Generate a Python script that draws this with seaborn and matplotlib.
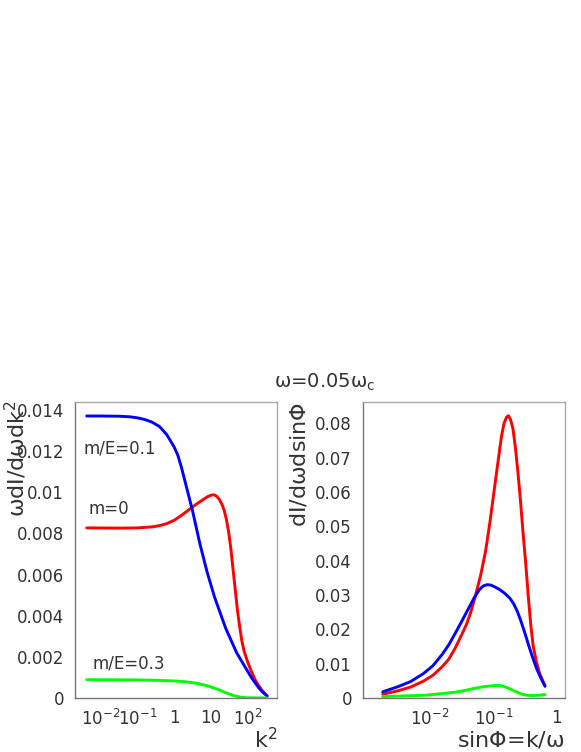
import numpy as np
import pandas as pd
import seaborn as sns
import matplotlib
matplotlib.use("Agg")
import matplotlib.pyplot as plt
from matplotlib.ticker import FixedLocator, FixedFormatter, AutoMinorLocator, LogLocator, NullFormatter, FuncFormatter

# Values. x positions are kept as log10 of the axis value
# (easier to read on a log axis), converted below.

# Left panel: omega dI/domega dk^2 against k^2
logk2_m0 = [-2.38, -1.5, -1.0, -0.6, -0.4, -0.2, 0.0, 0.2, 0.4, 0.6, 0.8, 0.9, 1.0, 1.08, 1.15,
            1.22, 1.3, 1.36, 1.42, 1.48, 1.54, 1.6, 1.66, 1.72, 1.78, 1.84, 1.9, 2.0, 2.1, 2.2,
            2.3, 2.4, 2.53]
dI_m0 = [0.00827, 0.00826, 0.00827, 0.00832, 0.00838, 0.00848, 0.00864, 0.00888, 0.00915,
         0.00942, 0.00966, 0.00978, 0.00986, 0.00988, 0.00982, 0.00968, 0.00942, 0.00913,
         0.0087, 0.0081, 0.0073, 0.0063, 0.0053, 0.0043, 0.0035, 0.0028, 0.0023, 0.00175,
         0.0013, 0.0009, 0.0006, 0.00035, 0.0001]

logk2_m01 = [-2.38, -2.0, -1.5, -1.2, -1.0, -0.8, -0.6, -0.4, -0.2, 0.0, 0.1, 0.2, 0.3, 0.4, 0.5,
             0.6, 0.7, 0.8, 0.9, 1.0, 1.1, 1.2, 1.3, 1.4, 1.5, 1.6, 1.7, 1.8, 1.9, 2.0, 2.1, 2.2,
             2.3, 2.4, 2.53]
dI_m01 = [0.01371, 0.01371, 0.0137, 0.01367, 0.01362, 0.01354, 0.01341, 0.0132, 0.0128, 0.0122,
          0.0118, 0.0112, 0.0105, 0.0098, 0.0091, 0.0083, 0.0075, 0.0068, 0.0061, 0.0055,
          0.0049, 0.0044, 0.0039, 0.0034, 0.003, 0.0026, 0.0022, 0.0019, 0.0016, 0.0013,
          0.001, 0.00075, 0.0005, 0.0003, 0.0001]

logk2_m03 = [-2.38, -1.0, -0.5, 0.0, 0.3, 0.6, 0.8, 1.0, 1.2, 1.4, 1.6, 1.8, 2.0, 2.53]
dI_m03 = [0.00089, 0.00088, 0.00086, 0.00083, 0.00079, 0.00072, 0.00064, 0.00054, 0.00041,
          0.00026, 0.00013, 0.00004, 0.00001, 0.0]

# Right panel: dI/domega dsinPhi against sinPhi = k/omega
logs_m0 = [-2.74, -2.5, -2.3, -2.1, -1.95, -1.8, -1.7, -1.6, -1.5, -1.42, -1.35, -1.28, -1.2,
           -1.12, -1.05, -0.98, -0.92, -0.87, -0.83, -0.79, -0.76, -0.73, -0.69, -0.65, -0.61,
           -0.57, -0.53, -0.49, -0.45, -0.41, -0.37, -0.32, -0.27, -0.22, -0.185]
dS_m0 = [0.0011, 0.0021, 0.0032, 0.0049, 0.0066, 0.0092, 0.0113, 0.0145, 0.0183, 0.0215, 0.0252,
         0.0298, 0.0356, 0.0428, 0.0515, 0.0612, 0.0695, 0.0762, 0.08, 0.0818, 0.0822, 0.0812,
         0.0785, 0.0728, 0.0655, 0.0572, 0.048, 0.0395, 0.03, 0.0215, 0.015, 0.0105, 0.0072,
         0.005, 0.0037]

logs_m01 = [-2.74, -2.5, -2.3, -2.1, -1.95, -1.8, -1.7, -1.6, -1.5, -1.4, -1.3, -1.22, -1.16,
            -1.1, -1.04, -0.98, -0.9, -0.82, -0.74, -0.68, -0.62, -0.56, -0.5, -0.44, -0.38,
            -0.32, -0.26, -0.22, -0.185]
dS_m01 = [0.0018, 0.0033, 0.0048, 0.0071, 0.0094, 0.0128, 0.0155, 0.0188, 0.0222, 0.0257, 0.0292,
          0.0315, 0.0326, 0.033, 0.0329, 0.0324, 0.0316, 0.0305, 0.0291, 0.0275, 0.0252, 0.0222,
          0.0188, 0.0152, 0.0118, 0.0087, 0.0062, 0.0047, 0.0034]

logs_m03 = [-2.74, -2.4, -2.08, -1.8, -1.6, -1.475, -1.32, -1.15, -1.0, -0.92, -0.84, -0.74,
            -0.64, -0.55, -0.47, -0.38, -0.28, -0.185]
dS_m03 = [0.0004, 0.0006, 0.0008, 0.0013, 0.0017, 0.0021, 0.0027, 0.0033, 0.0036, 0.0037, 0.0034,
          0.0027, 0.0018, 0.0011, 0.0008, 0.0007, 0.0008, 0.001]

left_ticks = [1e-2, 1e-1, 1, 10, 100]
left_labels = ['$10^{-2}$', '$10^{-1}$', '1', '10', '$10^{2}$']
right_ticks = [1e-2, 1e-1, 1]
right_labels = ['$10^{-2}$', '$10^{-1}$', '1']

sns.set_style("white")
plt.rcParams['font.family'] = ['DejaVu Sans']
plt.rcParams['mathtext.fontset'] = 'dejavusans'
plt.rcParams['mathtext.default'] = 'regular'

txt = '#333333'
RED, BLUE, GREEN = '#ff0000', '#0000ff', '#00ff00'

fig = plt.figure(figsize=(5.81, 7.52), dpi=100)
ax1 = fig.add_axes([0.1291, 0.0718, 0.3477, 0.3936])
ax2 = fig.add_axes([0.6248, 0.0718, 0.3477, 0.3936])

for lx, y, c in [(logk2_m0, dI_m0, RED), (logk2_m01, dI_m01, BLUE), (logk2_m03, dI_m03, GREEN)]:
    sns.lineplot(x=np.power(10.0, lx), y=y, ax=ax1, color=c, linewidth=2.1,
                 estimator=None, sort=False)
for lx, y, c in [(logs_m0, dS_m0, RED), (logs_m01, dS_m01, BLUE), (logs_m03, dS_m03, GREEN)]:
    sns.lineplot(x=np.power(10.0, lx), y=y, ax=ax2, color=c, linewidth=2.1,
                 estimator=None, sort=False)


def style_axis(ax, xlim, ylim, ystep, xt, xl):
    ax.set_xscale('log')
    ax.set_xlim(*xlim)
    ax.set_ylim(*ylim)
    ax.xaxis.set_major_locator(FixedLocator(xt))
    ax.xaxis.set_major_formatter(FixedFormatter(xl))
    ax.xaxis.set_minor_locator(LogLocator(base=10, subs=range(2, 10), numticks=20))
    ax.xaxis.set_minor_formatter(NullFormatter())
    ax.yaxis.set_major_locator(plt.MultipleLocator(ystep))
    ax.yaxis.set_minor_locator(AutoMinorLocator(5))
    ax.yaxis.set_major_formatter(FuncFormatter(lambda v, p: f'{v:g}'))
    ax.tick_params(which='both', direction='in', top=False, right=False,
                   color='#555555', width=0.8, labelsize=12, labelcolor=txt, pad=8)
    ax.tick_params(which='major', length=7)
    ax.tick_params(which='minor', length=4)
    for s in ['left', 'bottom']:
        ax.spines[s].set_color('#777777')
    for s in ['top', 'right']:
        ax.spines[s].set_color('#aaaaaa')
    for s in ax.spines.values():
        s.set_linewidth(1)
    ax.set_xlabel('')
    ax.set_ylabel('')


style_axis(ax1, (2.0e-3, 630), (0, 0.01439), 0.002, left_ticks, left_labels)
style_axis(ax2, (8.9e-4, 1.35), (0, 0.0862), 0.01, right_ticks, right_labels)

ax1.text(0.0035, 0.01215, 'm/E=0.1', fontsize=12, color=txt, va='center', ha='left')
ax1.text(0.0048, 0.00918, 'm=0', fontsize=12, color=txt, va='center', ha='left')
ax1.text(0.0061, 0.00169, 'm/E=0.3', fontsize=12, color=txt, va='center', ha='left')

fig.text(0.559, 0.491, r'$\omega$=0.05$\omega_{c}$', fontsize=14, color=txt, ha='center', va='center')
fig.text(0.028, 0.468, r'$\omega$dI/d$\omega$dk$^{2}$', fontsize=16, color=txt,
         rotation=90, ha='center', va='top')
fig.text(0.515, 0.466, r'dI/d$\omega$dsin$\Phi$', fontsize=16, color=txt,
         rotation=90, ha='center', va='top')
fig.text(0.477, 0.016, r'k$^{2}$', fontsize=16, color=txt, ha='right', va='center')
fig.text(0.972, 0.016, r'sin$\Phi$=k/$\omega$', fontsize=16, color=txt, ha='right', va='center')

fig.savefig('out.png', dpi=100)
